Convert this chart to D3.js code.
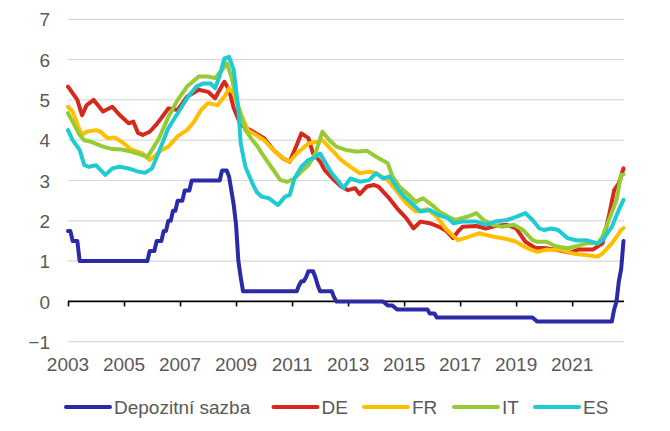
<!DOCTYPE html>
<html>
<head>
<meta charset="utf-8">
<script src="https://cdn.jsdelivr.net/npm/d3@7/dist/d3.min.js"></script>
<style>
  html, body { margin: 0; padding: 0; background: #fff; }
  svg { display: block; font-family: "Liberation Sans", Arial, sans-serif; }
</style>
</head>
<body>
<svg id="chart" width="670" height="431"></svg>
<script>
// ---- Data ----
const seriesNames = ["Depozitní sazba", "DE", "FR", "IT", "ES"];
const yTicks = [-1, 0, 1, 2, 3, 4, 5, 6, 7];
const xTickYears = [2003, 2005, 2007, 2009, 2011, 2013, 2015, 2017, 2019, 2021];
const firstMonth = "2003-01";
const lastMonth = "2022-11";

const depo = [
  ["2003-01",1.75],["2003-02",1.75],["2003-03",1.5],["2003-05",1.5],["2003-06",1.0],
  ["2005-11",1.0],["2005-12",1.25],["2006-02",1.25],["2006-03",1.5],["2006-05",1.5],
  ["2006-06",1.75],["2006-07",1.75],["2006-08",2.0],["2006-09",2.0],["2006-10",2.25],
  ["2006-11",2.25],["2006-12",2.5],["2007-02",2.5],["2007-03",2.75],["2007-05",2.75],
  ["2007-06",3.0],["2008-06",3.0],["2008-07",3.25],["2008-09",3.25],["2008-10",3.1],
  ["2008-11",2.75],["2008-12",2.4],["2009-01",1.9],["2009-02",1.0],["2009-03",0.6],
  ["2009-04",0.25],["2011-03",0.25],["2011-04",0.4],["2011-05",0.5],["2011-06",0.5],
  ["2011-07",0.6],["2011-08",0.75],["2011-10",0.75],["2011-11",0.6],["2011-12",0.4],
  ["2012-01",0.25],["2012-06",0.25],["2012-07",0.1],["2012-08",0.0],["2014-04",0.0],
  ["2014-06",-0.1],["2014-08",-0.1],["2014-10",-0.2],["2015-11",-0.2],["2015-12",-0.3],
  ["2016-02",-0.3],["2016-03",-0.4],["2019-08",-0.4],["2019-09",-0.45],["2019-10",-0.5],
  ["2022-06",-0.5],["2022-07",-0.2],["2022-08",0.0],["2022-09",0.5],["2022-10",0.8],
  ["2022-11",1.5]
];

const de = [
  ["2003-01",5.33],["2003-05",5.0],["2003-07",4.62],["2003-09",4.87],["2003-12",5.0],
  ["2004-04",4.71],["2004-08",4.83],["2004-11",4.63],["2005-03",4.42],["2005-05",4.46],
  ["2005-07",4.18],["2005-09",4.13],["2005-12",4.21],["2006-03",4.4],["2006-05",4.55],
  ["2006-08",4.79],["2006-12",4.75],["2007-04",5.08],["2007-09",5.25],["2008-01",5.2],
  ["2008-04",5.04],["2008-06",5.25],["2008-08",5.45],["2008-10",5.25],["2008-12",4.8],
  ["2009-03",4.38],["2009-08",4.22],["2010-01",4.05],["2010-05",3.76],["2010-09",3.55],
  ["2010-12",3.47],["2011-03",3.88],["2011-05",4.17],["2011-08",4.05],["2011-10",3.67],
  ["2012-01",3.47],["2012-03",3.26],["2012-07",3.01],["2012-10",2.85],["2013-01",2.76],
  ["2013-04",2.81],["2013-06",2.66],["2013-09",2.85],["2013-12",2.89],["2014-02",2.85],
  ["2014-06",2.6],["2014-10",2.31],["2015-02",2.06],["2015-05",1.81],["2015-08",1.98],
  ["2015-12",1.94],["2016-04",1.85],["2016-07",1.75],["2016-10",1.57],["2016-12",1.73],
  ["2017-02",1.85],["2017-08",1.87],["2017-12",1.81],["2018-04",1.87],["2018-09",1.9],
  ["2019-01",1.81],["2019-05",1.48],["2019-09",1.33],["2020-02",1.32],["2020-06",1.28],
  ["2020-12",1.21],["2021-04",1.29],["2021-10",1.29],["2022-02",1.44],["2022-05",2.19],
  ["2022-07",2.76],["2022-09",2.93],["2022-11",3.3]
];

const fr = [
  ["2003-01",4.83],["2003-03",4.71],["2003-06",4.25],["2003-07",4.13],["2003-09",4.21],
  ["2004-01",4.25],["2004-03",4.21],["2004-06",4.05],["2004-09",4.07],["2005-01",3.92],
  ["2005-04",3.77],["2005-09",3.67],["2005-12",3.51],["2006-03",3.65],["2006-05",3.75],
  ["2006-08",3.84],["2006-12",4.1],["2007-04",4.25],["2007-07",4.46],["2007-10",4.75],
  ["2008-01",4.92],["2008-05",4.87],["2008-08",5.08],["2008-10",5.29],["2008-12",5.16],
  ["2009-03",4.67],["2009-06",4.25],["2009-09",4.15],["2010-01",4.0],["2010-05",3.76],
  ["2010-09",3.55],["2010-12",3.47],["2011-03",3.67],["2011-08",3.92],["2011-12",3.96],
  ["2012-02",4.0],["2012-06",3.76],["2012-10",3.51],["2013-02",3.34],["2013-06",3.18],
  ["2013-10",3.22],["2014-01",3.18],["2014-06",3.01],["2014-10",2.72],["2015-02",2.43],
  ["2015-06",2.23],["2015-11",2.29],["2016-03",2.1],["2016-07",1.79],["2016-12",1.52],
  ["2017-04",1.59],["2017-09",1.69],["2018-03",1.61],["2018-09",1.55],["2019-01",1.48],
  ["2019-05",1.34],["2019-10",1.23],["2020-02",1.28],["2020-08",1.28],["2021-02",1.18],
  ["2021-07",1.15],["2021-12",1.11],["2022-02",1.19],["2022-06",1.44],["2022-10",1.77],
  ["2022-11",1.82]
];

const it = [
  ["2003-01",4.67],["2003-03",4.46],["2003-06",4.13],["2003-08",4.0],["2003-11",3.96],
  ["2004-04",3.84],["2004-08",3.78],["2004-12",3.77],["2005-04",3.72],["2005-09",3.63],
  ["2005-11",3.58],["2006-01",3.76],["2006-04",4.05],["2006-08",4.58],["2006-12",5.0],
  ["2007-04",5.33],["2007-09",5.58],["2008-01",5.58],["2008-04",5.54],["2008-07",5.74],
  ["2008-09",5.91],["2008-11",5.58],["2009-02",4.83],["2009-05",4.25],["2009-08",4.0],
  ["2009-10",3.86],["2010-01",3.59],["2010-05",3.26],["2010-08",3.01],["2010-11",2.97],
  ["2011-02",3.05],["2011-05",3.22],["2011-08",3.38],["2011-11",3.67],["2012-02",4.21],
  ["2012-05",4.0],["2012-08",3.84],["2012-12",3.76],["2013-04",3.72],["2013-06",3.72],
  ["2013-09",3.74],["2014-01",3.59],["2014-06",3.43],["2014-08",3.1],["2014-11",2.85],
  ["2015-03",2.64],["2015-06",2.47],["2015-09",2.56],["2016-01",2.39],["2016-04",2.23],
  ["2016-08",2.1],["2016-11",2.02],["2017-04",2.1],["2017-08",2.19],["2017-11",2.02],
  ["2018-03",1.9],["2018-07",1.85],["2018-12",1.9],["2019-04",1.77],["2019-08",1.52],
  ["2019-10",1.48],["2020-02",1.48],["2020-06",1.37],["2020-11",1.32],["2021-03",1.37],
  ["2021-07",1.44],["2021-12",1.44],["2022-02",1.61],["2022-05",2.06],["2022-08",2.52],
  ["2022-10",3.14],["2022-11",3.15]
];

const es = [
  ["2003-01",4.25],["2003-03",4.0],["2003-06",3.76],["2003-08",3.38],["2003-10",3.34],
  ["2004-01",3.38],["2004-03",3.26],["2004-05",3.14],["2004-08",3.3],["2004-11",3.34],
  ["2005-03",3.3],["2005-07",3.22],["2005-10",3.19],["2006-01",3.3],["2006-04",3.72],
  ["2006-08",4.3],["2006-12",4.67],["2007-04",5.04],["2007-08",5.33],["2007-11",5.41],
  ["2008-02",5.41],["2008-04",5.29],["2008-06",5.6],["2008-08",6.03],["2008-10",6.07],
  ["2008-12",5.74],["2009-02",4.75],["2009-03",3.92],["2009-05",3.34],["2009-08",2.93],
  ["2009-10",2.7],["2009-12",2.6],["2010-03",2.56],["2010-07",2.39],["2010-10",2.6],
  ["2010-12",2.64],["2011-02",3.05],["2011-05",3.34],["2011-08",3.51],["2011-10",3.55],
  ["2012-01",3.67],["2012-03",3.47],["2012-06",3.18],["2012-09",2.97],["2012-11",2.81],
  ["2013-02",3.05],["2013-06",2.97],["2013-10",3.01],["2014-01",3.18],["2014-04",3.05],
  ["2014-07",3.1],["2014-10",2.81],["2015-01",2.6],["2015-05",2.39],["2015-08",2.23],
  ["2015-12",2.27],["2016-04",2.14],["2016-08",2.06],["2016-10",1.94],["2017-02",1.98],
  ["2017-08",1.98],["2017-12",1.9],["2018-04",1.98],["2018-09",2.02],["2019-01",2.1],
  ["2019-05",2.19],["2019-08",2.02],["2019-11",1.81],["2020-01",1.77],["2020-04",1.81],
  ["2020-07",1.77],["2020-11",1.57],["2021-03",1.51],["2021-07",1.52],["2021-12",1.44],
  ["2022-02",1.52],["2022-06",1.85],["2022-09",2.27],["2022-11",2.52]
];

const seriesData = [depo, de, fr, it, es];
const seriesColors = ["#2b2ba6", "#d7281c", "#ffbf00", "#96cb35", "#1ecbd3"];

// ---- Chart ----
const svg = d3.select("#chart");
const monthIndex = s => { const [y, m] = s.split("-").map(Number); return (y - 2003) * 12 + (m - 1); };

const x = d3.scaleLinear()
  .domain([monthIndex(firstMonth), monthIndex(lastMonth)])
  .range([68, 623.5]);
const y = d3.scaleLinear().domain([-1, 7]).range([341.7, 19.3]);

const textColor = "#595959";
const fontSize = 19;

// gridlines
svg.append("g").selectAll("line")
  .data(yTicks.filter(v => v !== 0))
  .join("line")
  .attr("x1", x.range()[0]).attr("x2", x.range()[1] + 0.5)
  .attr("y1", d => y(d)).attr("y2", d => y(d))
  .attr("stroke", "#d9d9d9").attr("stroke-width", 1.2);

// y-axis labels
const yAxis = d3.axisLeft(y).tickValues(yTicks).tickSize(0).tickPadding(0).tickFormat(d3.format("d"));
const yg = svg.append("g").attr("transform", "translate(50,0)").call(yAxis);
yg.select(".domain").remove();
yg.selectAll("text").attr("fill", textColor).attr("font-size", fontSize)
  .attr("font-family", "Liberation Sans, Arial, sans-serif").attr("dy", "0.35em");

// x axis at zero
const xTickIdx = xTickYears.map(yr => monthIndex(yr + "-01"));
const xAxis = d3.axisBottom(x).tickValues(xTickIdx).tickSize(5).tickFormat(() => "");
const xg = svg.append("g").attr("transform", `translate(0,${y(0)})`).call(xAxis);
xg.select(".domain").attr("stroke", "#000").attr("stroke-width", 1.6)
  .attr("d", `M${x.range()[0]},0H${x.range()[1] + 0.5}`);
xg.selectAll(".tick line").attr("stroke", "#000").attr("stroke-width", 1.6);

// x labels at bottom
svg.append("g").selectAll("text")
  .data(xTickYears)
  .join("text")
  .attr("x", d => x(monthIndex(d + "-01")))
  .attr("y", 370.5)
  .attr("text-anchor", "middle")
  .attr("fill", textColor).attr("font-size", fontSize)
  .text(d => d);

// lines
const line = d3.line().x(d => x(monthIndex(d[0]))).y(d => y(d[1]));
svg.append("g").selectAll("path")
  .data(seriesData)
  .join("path")
  .attr("d", d => line(d))
  .attr("fill", "none")
  .attr("stroke", (d, i) => seriesColors[i])
  .attr("stroke-width", 4)
  .attr("stroke-linejoin", "round")
  .attr("stroke-linecap", "round");

// legend
const legendY = 407;
const legendStarts = [66, 273.5, 364, 454, 535];
const lg = svg.append("g").selectAll("g")
  .data(seriesNames)
  .join("g")
  .attr("transform", (d, i) => `translate(${legendStarts[i]},${legendY})`);
lg.append("line")
  .attr("x1", 0).attr("x2", 44).attr("y1", 0).attr("y2", 0)
  .attr("stroke", (d, i) => seriesColors[i])
  .attr("stroke-width", 4).attr("stroke-linecap", "round");
lg.append("text")
  .attr("x", 48).attr("y", 0).attr("dy", "0.35em")
  .attr("fill", textColor).attr("font-size", fontSize)
  .text(d => d);
</script>
</body>
</html>
